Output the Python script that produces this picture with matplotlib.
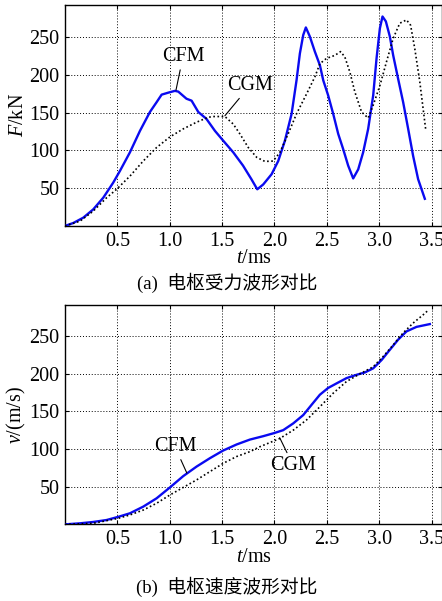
import matplotlib
matplotlib.use("Agg")
import matplotlib.pyplot as plt

# ---- data (a) force, kN vs ms ----
t_F_cfm = [0.0, 0.08, 0.175, 0.27, 0.366, 0.461, 0.525, 0.62, 0.716, 0.811, 0.875, 0.923, 0.986,
           1.05, 1.082, 1.16, 1.209, 1.273, 1.35, 1.432, 1.511, 1.607, 1.70, 1.78, 1.836,
           1.893, 1.973, 2.036, 2.10, 2.164, 2.211, 2.243, 2.275, 2.30, 2.338, 2.386, 2.434,
           2.466, 2.513, 2.561, 2.609, 2.656, 2.704, 2.752, 2.80, 2.847, 2.895, 2.943, 2.975,
           3.007, 3.032, 3.064, 3.102, 3.134, 3.181, 3.229, 3.277, 3.324, 3.372, 3.436]
F_cfm = [0, 4, 11, 22, 37.5, 57.5, 73, 97.5, 126, 151, 164, 174, 176.6,
         179, 178, 168.6, 166, 151, 142, 126, 113, 97.5, 80, 62, 48.6,
         55, 68.6, 86, 113, 148.6, 193, 228.6, 253, 263, 251, 231, 213,
         193, 173, 148.6, 122, 102, 80, 63, 75, 97.5, 128.6, 173, 222,
         262, 277.5, 271, 251, 226, 195, 164, 128.6, 93, 62, 36]

t_F_cgm = [0.0, 0.143, 0.27, 0.398, 0.493, 0.62, 0.747, 0.875, 1.002, 1.129, 1.257, 1.368,
           1.416, 1.527, 1.607, 1.67, 1.75, 1.83, 1.909, 1.988, 2.052, 2.131, 2.211, 2.307,
           2.386, 2.434, 2.497, 2.577, 2.631, 2.672, 2.72, 2.768, 2.832, 2.895, 2.943, 3.007,
           3.07, 3.134, 3.197, 3.261, 3.30, 3.34, 3.388, 3.42, 3.446]
F_cgm = [0, 6.4, 19.7, 37.5, 48.6, 66, 86, 104, 118, 128.6, 137.5, 144,
         145, 145, 135, 122, 104, 91, 85.5, 86, 97.5, 122, 148.6, 175,
         197.5, 215, 222, 226, 231, 224, 204, 177.5, 151, 143, 160, 186,
         217.5, 248.6, 268.6, 273, 266, 235, 191, 155, 126]

# ---- data (b) velocity, m/s vs ms ----
t_v_cfm = [0.0, 0.143, 0.27, 0.398, 0.509, 0.62, 0.747, 0.875, 1.002, 1.129, 1.257, 1.384,
           1.511, 1.639, 1.766, 1.893, 1.995, 2.084, 2.18, 2.275, 2.354, 2.434, 2.513, 2.593,
           2.688, 2.784, 2.863, 2.943, 3.023, 3.102, 3.181, 3.261, 3.357, 3.484]
v_cfm = [0, 1.4, 3.2, 5.8, 10, 14.7, 23.5, 34.6, 49, 64, 76.7, 87.8,
         98, 106, 112.5, 117, 121, 125, 134, 145, 158.5, 172, 181, 187,
         194, 198.4, 201.5, 207, 218, 231.6, 245, 256, 262, 265.7]

t_v_cgm = [0.0, 0.27, 0.509, 0.62, 0.747, 0.875, 1.002, 1.129, 1.257, 1.384, 1.511, 1.639,
           1.766, 1.861, 2.052, 2.18, 2.307, 2.434, 2.561, 2.688, 2.816, 2.943, 3.038, 3.134,
           3.229, 3.324, 3.42, 3.468]
v_cgm = [0, 1.4, 8, 12.5, 19, 28, 39, 49, 59, 70, 81, 90,
         96.5, 103, 114, 125, 138.6, 156, 174, 189.5, 199.7, 209, 222.7, 238,
         254, 267, 278, 284]

xticks = [0.5, 1.0, 1.5, 2.0, 2.5, 3.0, 3.5]
yticks = [50, 100, 150, 200, 250]

SERIF = ['Liberation Serif', 'DejaVu Serif']
CJK = ['Liberation Serif', 'Noto Sans CJK SC', 'DejaVu Sans']
plt.rcParams['font.family'] = SERIF
plt.rcParams['mathtext.fontset'] = 'custom'
plt.rcParams['mathtext.it'] = 'Liberation Serif:italic'
plt.rcParams['mathtext.rm'] = 'Liberation Serif'

FS = 14.5
fig = plt.figure(figsize=(4.42, 6.01), dpi=100)
ax1 = fig.add_axes([0.147, 0.624, 0.853, 0.368])
ax2 = fig.add_axes([0.147, 0.1275, 0.853, 0.365])

BLUE = '#0a0af0'

def style(ax, ymax):
    ax.set_xlim(0, 3.6)
    ax.set_ylim(0, ymax)
    ax.set_xticks(xticks)
    ax.set_xticklabels([f"{x:.1f}" for x in xticks])
    ax.set_yticks(yticks)
    ax.grid(True, color='black', linestyle=(0, (1, 2)), linewidth=0.7)
    ax.tick_params(direction='in', length=3, width=0.8, labelsize=FS, pad=4,
                   top=True, right=True)
    for s in ax.spines.values():
        s.set_linewidth(1.0)
    ax.set_xlabel('$t$/ms', fontsize=FS, labelpad=-1)

LEAD = dict(arrowstyle='-', color='black', lw=0.8, shrinkA=0.5, shrinkB=0)

ax1.plot(t_F_cfm, F_cfm, color=BLUE, lw=1.7, zorder=3)
ax1.plot(t_F_cgm, F_cgm, color='black', lw=1.2, linestyle=(0, (1, 1.5)), zorder=3)
style(ax1, 293)
ax1.set_ylabel('$F$/kN', fontsize=FS, labelpad=1)
ax1.annotate('CFM', xy=(1.06, 180), xytext=(1.126, 224), fontsize=FS, ha='center', va='center',
             arrowprops=LEAD)
ax1.annotate('CGM', xy=(1.527, 146), xytext=(1.766, 186), fontsize=FS, ha='center', va='center',
             arrowprops=LEAD)

ax2.plot(t_v_cfm, v_cfm, color=BLUE, lw=1.7, zorder=3)
ax2.plot(t_v_cgm, v_cgm, color='black', lw=1.2, linestyle=(0, (1, 1.5)), zorder=3)
style(ax2, 291)
ax2.set_ylabel('$v$/(m/s)', fontsize=FS, labelpad=1)
ax2.annotate('CFM', xy=(1.164, 68), xytext=(1.05, 103), fontsize=FS, ha='center', va='center',
             arrowprops=LEAD)
ax2.annotate('CGM', xy=(2.05, 115), xytext=(2.18, 78), fontsize=FS, ha='center', va='center',
             arrowprops=LEAD)

fig.text(227 / 442, 1 - 283 / 601, '(a)  电枢受力波形对比', family=CJK, fontsize=13.5,
         ha='center', va='center')
fig.text(227 / 442, 1 - 587 / 601, '(b)  电枢速度波形对比', family=CJK, fontsize=13.5,
         ha='center', va='center')

fig.savefig('out.png', dpi=100)
